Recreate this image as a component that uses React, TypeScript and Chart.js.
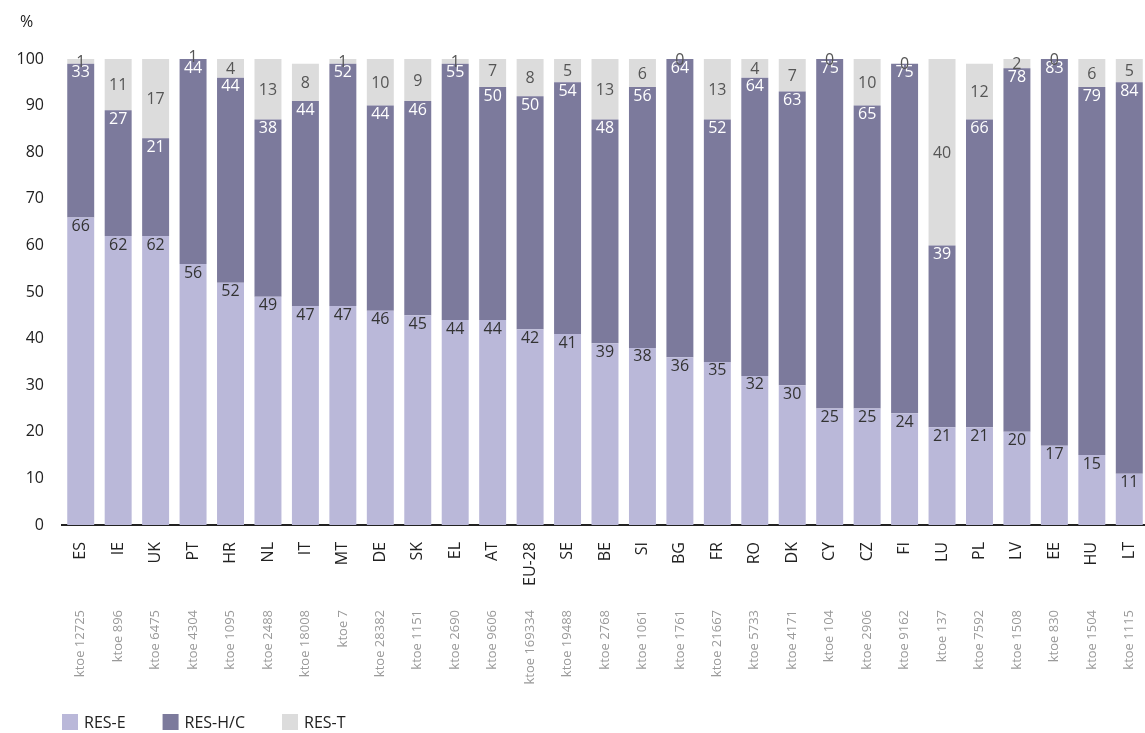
import React, { useEffect, useRef } from "react";
import { Chart, registerables } from "chart.js";

const countries = ["ES", "IE", "UK", "PT", "HR", "NL", "IT", "MT", "DE", "SK", "EL", "AT", "EU-28", "SE", "BE", "SI", "BG", "FR", "RO", "DK", "CY", "CZ", "FI", "LU", "PL", "LV", "EE", "HU", "LT"];
const ktoe = [12725, 896, 6475, 4304, 1095, 2488, 18008, 7, 28382, 1151, 2690, 9606, 169334, 19488, 2768, 1061, 1761, 21667, 5733, 4171, 104, 2906, 9162, 137, 7592, 1508, 830, 1504, 1115];
const resE = [66, 62, 62, 56, 52, 49, 47, 47, 46, 45, 44, 44, 42, 41, 39, 38, 36, 35, 32, 30, 25, 25, 24, 21, 21, 20, 17, 15, 11];
const resHC = [33, 27, 21, 44, 44, 38, 44, 52, 44, 46, 55, 50, 50, 54, 48, 56, 64, 52, 64, 63, 75, 65, 75, 39, 66, 78, 83, 79, 84];
const resT = [1, 11, 17, 1, 4, 13, 8, 1, 10, 9, 1, 7, 8, 5, 13, 6, 0, 13, 4, 7, 0, 10, 0, 40, 12, 2, 0, 6, 5];
const seriesNames = ["RES-E", "RES-H/C", "RES-T"];
const seriesColors = ["#bab8d9", "#7c7a9c", "#dcdcdc"];

const FONT = "'Open Sans', sans-serif";

const App: React.FC = () => {
  const ref = useRef<HTMLCanvasElement | null>(null);

  useEffect(() => {
    if (!ref.current) return;
    Chart.register(...registerables);

    const labelsPlugin = {
      id: "segLabels",
      afterDatasetsDraw: (chart: any) => {
        const ctx = chart.ctx;
        ctx.save();
        ctx.font = `16px ${FONT}`;
        ctx.textAlign = "center";
        const colors = ["#333333", "#ffffff", "#555555"];
        chart.data.datasets.forEach((ds: any, di: number) => {
          const meta = chart.getDatasetMeta(di);
          meta.data.forEach((bar: any, i: number) => {
            const v = ds.data[i];
            ctx.fillStyle = colors[di];
            if (di === 2) {
              ctx.textBaseline = "middle";
              ctx.fillText(String(v), bar.x, (bar.y + bar.base) / 2 + 1);
            } else {
              ctx.textBaseline = "top";
              ctx.fillText(String(v), bar.x, bar.y + 1);
            }
          });
        });
        // x labels
        const meta = chart.getDatasetMeta(0);
        meta.data.forEach((bar: any, i: number) => {
          ctx.save();
          ctx.translate(bar.x, 542);
          ctx.rotate(-Math.PI / 2);
          ctx.textAlign = "right";
          ctx.textBaseline = "middle";
          ctx.fillStyle = "#222222";
          ctx.font = `16px ${FONT}`;
          ctx.fillText(countries[i], 0, 0);
          ctx.restore();
          ctx.save();
          ctx.translate(bar.x, 610);
          ctx.rotate(-Math.PI / 2);
          ctx.textAlign = "right";
          ctx.textBaseline = "middle";
          ctx.fillStyle = "#9a9a9a";
          ctx.font = `13px ${FONT}`;
          ctx.fillText(`ktoe ${ktoe[i]}`, 0, 0);
          ctx.restore();
        });
        ctx.fillStyle = "#222222";
        ctx.font = `16px ${FONT}`;
        ctx.textAlign = "left";
        ctx.textBaseline = "middle";
        ctx.fillText("%", 20, 22);
        // legend
        let lx = 62;
        seriesNames.forEach((n, k) => {
          ctx.fillStyle = seriesColors[k];
          ctx.fillRect(lx, 714, 16, 16);
          ctx.fillStyle = "#222222";
          ctx.fillText(n, lx + 22, 723);
          lx += 22 + ctx.measureText(n).width + 37;
        });
        ctx.restore();
      },
    };

    const chart = new Chart(ref.current, {
      type: "bar",
      data: {
        labels: countries,
        datasets: seriesNames.map((n, k) => ({
          label: n,
          data: [resE, resHC, resT][k],
          backgroundColor: seriesColors[k],
        })),
      },
      options: {
        animation: false,
        responsive: false,
        layout: { padding: { top: 59, right: 0, left: 0, bottom: 0 } },
        datasets: { bar: { categoryPercentage: 0.72, barPercentage: 1 } },
        plugins: {
          tooltip: { enabled: false },
          legend: { display: false },
        },
        scales: {
          x: {
            stacked: true,
            grid: { display: false },
            border: { color: "#222", width: 2 },
            ticks: { display: false },
            afterFit: (s: any) => { s.height = 208; },
          },
          y: {
            stacked: true,
            min: 0,
            max: 100,
            grid: { display: false },
            border: { display: false },
            ticks: { stepSize: 10, color: "#222", font: { family: FONT, size: 16 }, padding: 10 },
            afterFit: (s: any) => { s.width = 62; },
          },
        },
      },
      plugins: [labelsPlugin],
    });
    return () => chart.destroy();
  }, []);

  return (
    <div style={{ position: "absolute", left: 0, top: 0, width: 1145, height: 733, overflow: "hidden" }}>
      <canvas ref={ref} width={1148} height={733} style={{ width: 1148, height: 733 }} />
    </div>
  );
};

export default App;
